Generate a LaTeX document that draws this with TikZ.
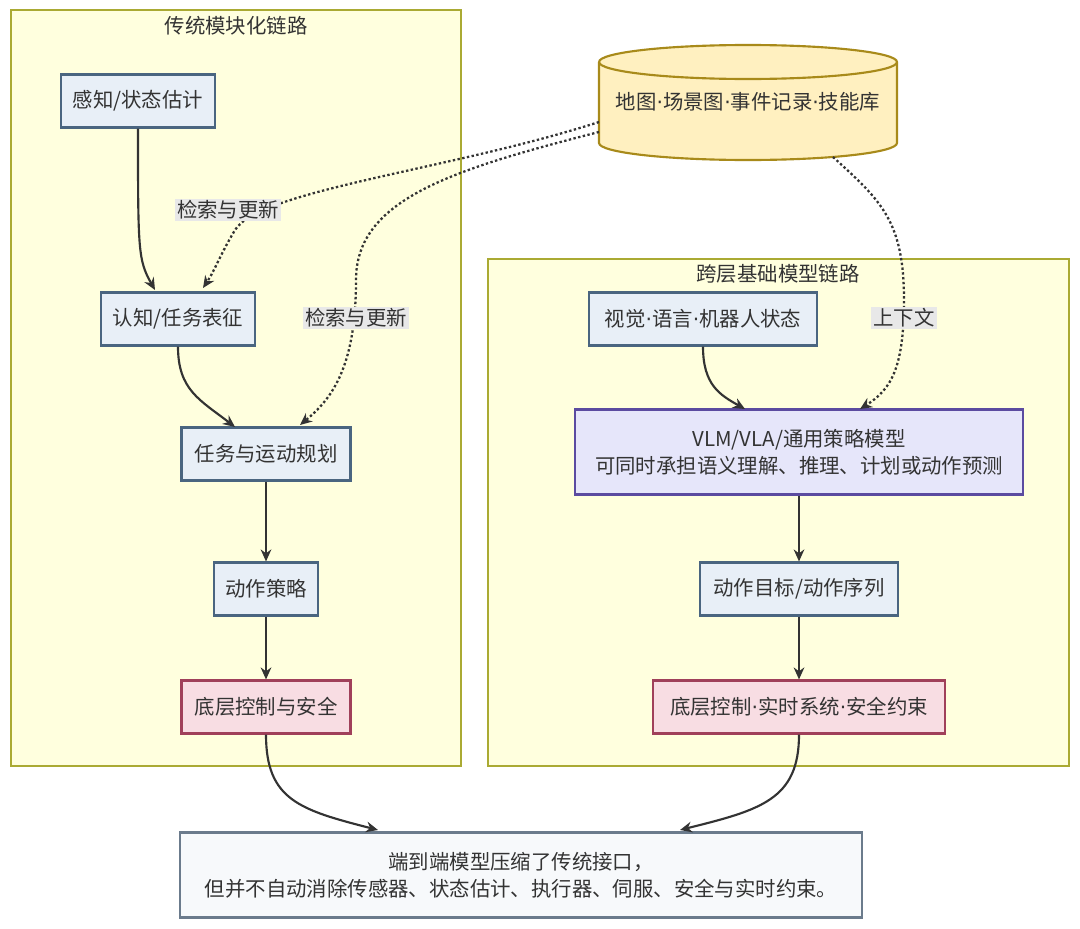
\documentclass[tikz,border=0pt]{standalone}
\usepackage{fontspec}
\setmainfont{Noto Sans CJK SC}
\newfontfamily\dvfont{DejaVu Sans}
\newcommand{\mdt}{{\dvfont ·}}
\usetikzlibrary{arrows.meta}
\definecolor{clf}{HTML}{FFFFDE}\definecolor{cld}{HTML}{AAAA33}
\definecolor{nf}{HTML}{E8EFF7}\definecolor{nd}{HTML}{4A6580}
\definecolor{rf}{HTML}{F8DDE3}\definecolor{rd}{HTML}{A0405A}
\definecolor{pf}{HTML}{E6E6FA}\definecolor{pd}{HTML}{5B4BA0}
\definecolor{yf}{HTML}{FFF0C0}\definecolor{yd}{HTML}{A88A1A}
\definecolor{bf}{HTML}{F7F9FB}\definecolor{bd}{HTML}{6B7B8C}
\definecolor{tx}{HTML}{333333}\definecolor{lb}{HTML}{E8E8E8}
\begin{document}
\begin{tikzpicture}[x=0.75pt,y=-0.75pt,font=\fontsize{15.3}{20}\selectfont,text=tx,
 clus/.style={draw=cld,fill=clf,line width=0.8pt},
 box/.style={draw=nd,fill=nf,line width=1.6pt,minimum height=39.75pt,inner sep=0pt,align=center},
 red/.style={box,draw=rd,fill=rf},
 pur/.style={box,draw=pd,fill=pf,minimum height=63.75pt},
 arr/.style={draw=tx,line width=1.6pt,-{Stealth[length=9pt,width=8pt]}},
 dot/.style={arr,dash pattern=on 1.8pt off 1.8pt,line width=1.7pt},
 lab/.style={fill=lb,inner sep=1.5pt}]
\useasboundingbox (0,0) rectangle (1080,928);
\draw[clus] (11,10) rectangle (461,766);
\node at (236,26) {传统模块化链路};
\draw[clus] (488,259) rectangle (1069,766);
\node at (778,274) {跨层基础模型链路};
% cylinder
\draw[draw=yd,fill=yf,line width=1.6pt] (599,62) -- (599,143) arc[start angle=180,end angle=0,x radius=149,y radius=17] -- (897,62) arc[start angle=0,end angle=-180,x radius=149,y radius=17];
\draw[draw=yd,line width=1.6pt] (599,62) arc[start angle=180,end angle=0,x radius=149,y radius=17];
\node (db) at (748,102) {地图\mdt 场景图\mdt 事件记录\mdt 技能库};
\coordinate (d1) at (599,122);\coordinate (d2) at (599,132);\coordinate (d3) at (833,157);
\node[box,minimum width=115.5pt] (a) at (138,101) {感知/状态估计};
\node[box,minimum width=115.5pt] (b) at (178,319) {认知/任务表征};
\node[box,minimum width=126.75pt] (c) at (266,454) {任务与运动规划};
\node[box,minimum width=78pt] (d) at (266,589) {动作策略};
\node[red,minimum width=126.75pt] (e) at (266,707) {底层控制与安全};
\node[box,minimum width=171pt] (v) at (703,319) {视觉\mdt 语言\mdt 机器人状态};
\node[pur,minimum width=336pt] (m) at (799,452) {VLM/VLA/通用策略模型\\可同时承担语义理解、推理、计划或动作预测};
\node[box,minimum width=148.5pt] (g) at (799,589) {动作目标/动作序列};
\node[red,minimum width=219pt] (r) at (799,707) {底层控制\mdt 实时系统\mdt 安全约束};
\node[box,draw=bd,fill=bf,minimum width=511.5pt,minimum height=63.75pt] (z) at (521,875) {端到端模型压缩了传统接口，\\但并不自动消除传感器、状态估计、执行器、伺服、安全与实时约束。};
\draw[arr] (a.south) .. controls (138,250) and (138,260) .. (155,290);
\draw[arr] (b.south) .. controls (178,390) and (200,400) .. (235,427);
\draw[arr] (c) -- (d);\draw[arr] (d) -- (e);
\draw[arr] (v.south) .. controls (703,385) and (720,395) .. (745,409);
\draw[arr] (m) -- (g);\draw[arr] (g) -- (r);
\draw[arr] (e.south) .. controls (266,800) and (300,810) .. (378,830);
\draw[arr] (r.south) .. controls (799,800) and (760,810) .. (680,830);
\draw[dot] (d1) .. controls (450,170) and (260,190) .. (235,230) .. controls (220,255) and (215,270) .. (203,288);
\node[lab] at (228,210) {检索与更新};
\draw[dot] (d2) .. controls (450,170) and (356,200) .. (356,280) .. controls (356,370) and (330,400) .. (300,425);
\node[lab] at (356,318) {检索与更新};
\draw[dot] (d3) .. controls (880,200) and (904,220) .. (904,300) .. controls (904,370) and (890,390) .. (860,409);
\node[lab] at (904,318) {上下文};
\end{tikzpicture}
\end{document}
